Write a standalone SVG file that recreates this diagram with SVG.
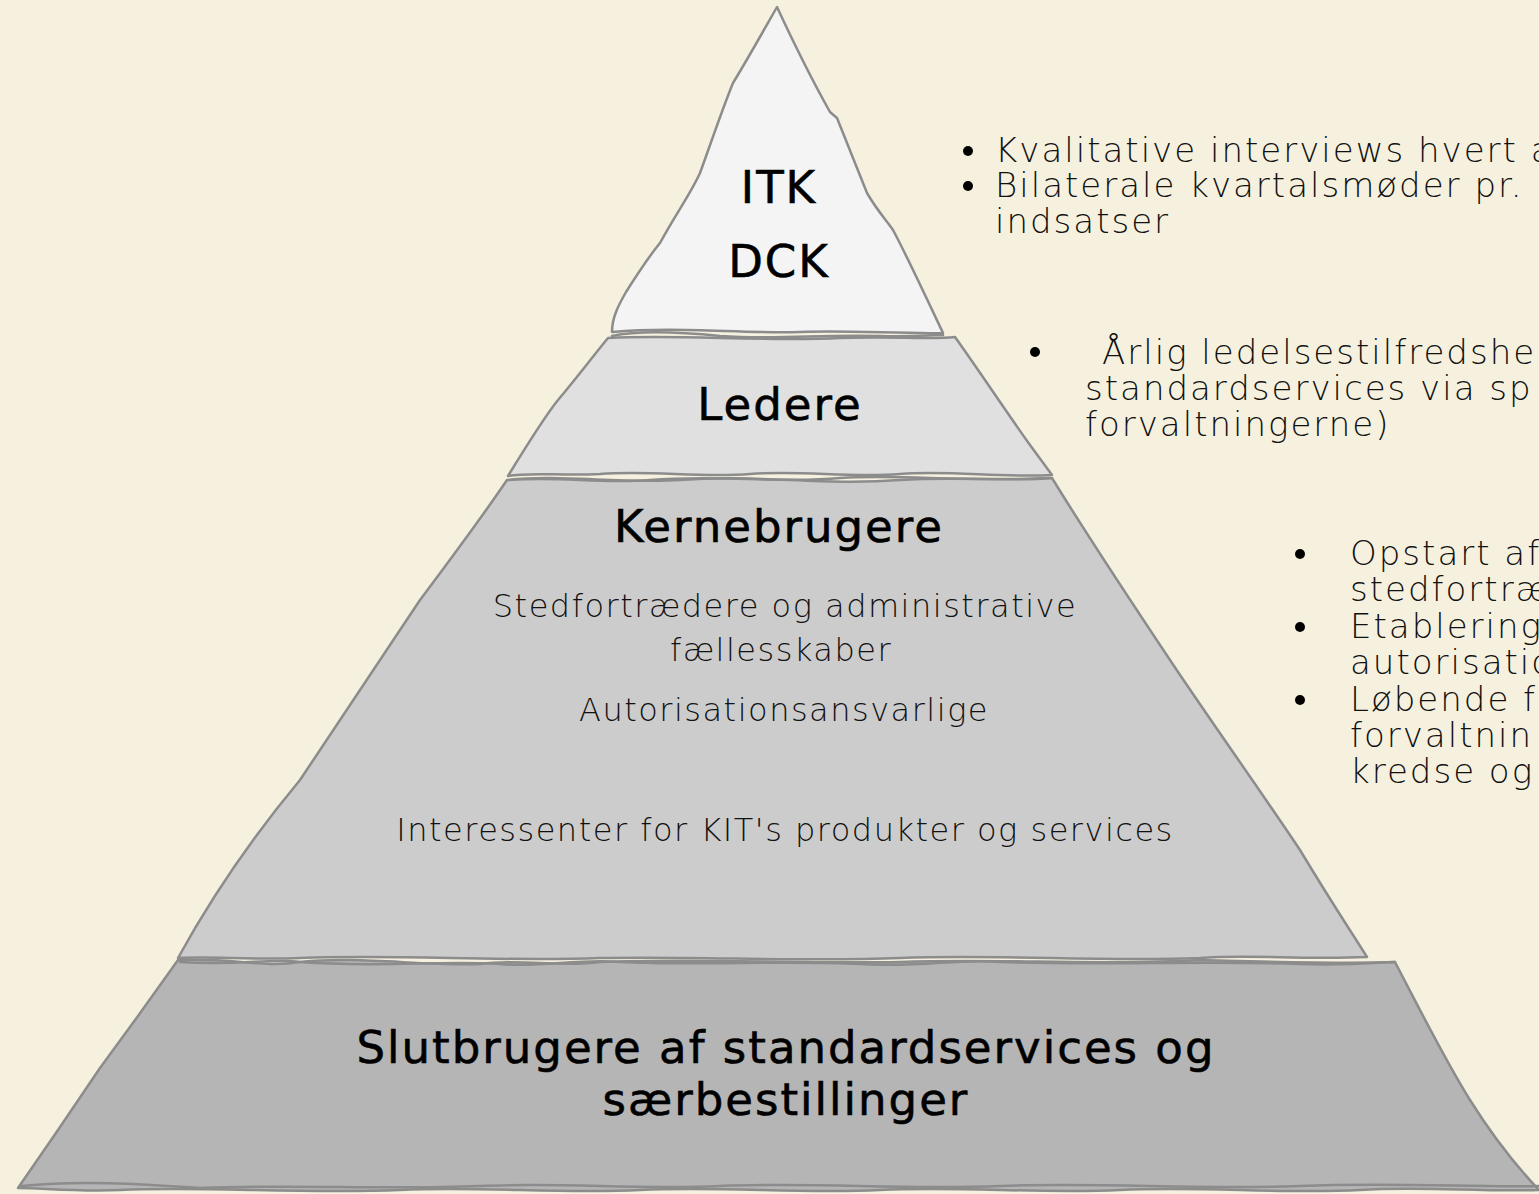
<svg xmlns="http://www.w3.org/2000/svg" width="1539" height="1194" viewBox="0 0 1539 1194">
<style>
.edge{stroke:#8c8c8c;stroke-width:2.5;stroke-linejoin:round;stroke-linecap:round}
.line{fill:none;stroke:#8c8c8c;stroke-width:2.5;stroke-linecap:round}
.lbl{font-family:"DejaVu Sans","Liberation Sans",sans-serif;font-weight:400;fill:#000;text-anchor:middle;stroke:#000;stroke-width:0.6;font-size:45px;letter-spacing:2px}
.sub{font-family:"DejaVu Sans","Liberation Sans",sans-serif;font-weight:200;fill:#111;text-anchor:middle;font-size:32px;letter-spacing:1.5px}
.bt{font-family:"DejaVu Sans","Liberation Sans",sans-serif;font-weight:200;fill:#111;font-size:34px;letter-spacing:2px}
.dot{fill:#000}
</style>
<rect width="1539" height="1194" fill="#f6f1df"/>

<g id="layer-slutbrugere">
<path class="edge" fill="#b5b5b5" d="M178,960 C240,958 260,968 300,962 C360,956 420,966 480,964 C520,958 560,968 600,962 C700,958 800,964 900,962 C1000,958 1100,966 1200,960 C1280,962 1340,964 1395,962 C1420,1010 1445,1060 1470,1100 C1495,1140 1520,1170 1539,1190 C1480,1192 1420,1186 1360,1190 C1280,1194 1200,1186 1120,1190 C1040,1194 960,1186 880,1190 C800,1194 720,1186 640,1190 C560,1194 480,1186 400,1190 C300,1194 200,1186 120,1190 C80,1192 40,1188 18,1188 L58,1130 L100,1068 L138,1016 Z"/>
<path class="line" d="M22,1186 C80,1180 140,1184 200,1188 C300,1184 380,1190 480,1186 C560,1182 640,1190 720,1186 C820,1182 900,1190 1000,1186 C1100,1182 1200,1190 1300,1186 C1400,1182 1480,1188 1539,1186"/>
<text class="lbl" x="786" y="1063">Slutbrugere af standardservices og</text>
<text class="lbl" x="786" y="1115">særbestillinger</text>
</g>

<g id="layer-kernebrugere">
<path class="edge" fill="#cccccc" d="M507,480 C560,474 620,484 680,480 C760,474 820,486 900,480 C960,476 1010,482 1052,478 C1090,540 1130,600 1170,660 C1210,720 1260,790 1300,850 C1330,900 1350,930 1367,957 C1300,960 1250,954 1200,958 C1100,962 1000,954 900,958 C800,962 700,956 600,958 C500,962 400,954 300,958 C250,960 210,956 178,958 C210,900 250,840 300,780 C340,720 380,660 420,600 C450,560 480,520 507,480 Z"/>
<path class="line" d="M180,962 C240,966 270,958 300,962 C380,968 440,960 500,964 C540,968 580,958 620,962 C700,966 780,960 860,964 C920,968 960,958 1000,962 C1100,966 1200,960 1300,964 C1350,966 1380,962 1395,962"/>
<text class="lbl" x="779" y="542">Kernebrugere</text>
<text class="sub" x="785" y="617">Stedfortrædere og administrative</text>
<text class="sub" x="781" y="661">fællesskaber</text>
<text class="sub" x="784" y="721">Autorisationsansvarlige</text>
<text class="sub" x="785" y="841">Interessenter for KIT's produkter og services</text>
</g>

<g id="layer-ledere">
<path class="edge" fill="#e0e0e0" d="M608,338 C680,334 760,342 840,338 C890,336 930,340 955,337 C980,372 1005,410 1030,445 L1052,475 C1000,478 950,470 900,474 C850,478 800,470 750,474 C700,478 650,470 600,474 C560,476 530,472 508,476 C530,440 550,410 558,400 C575,380 590,360 608,338 Z"/>
<path class="line" d="M510,480 C560,476 600,484 650,480 C720,474 780,484 840,478 C900,474 960,482 1050,478"/>
<text class="lbl" x="780" y="420">Ledere</text>
</g>

<g id="layer-itk">
<path class="edge" fill="#f4f4f4" d="M777,7 C790,35 812,80 830,112 L837,118 C848,145 858,170 867,193 C878,212 888,222 893,230 C905,252 925,295 943,333 C900,334 850,330 800,332 C740,334 680,326 612,332 C612,318 618,306 626,292 C640,270 650,255 660,243 C675,215 690,195 700,173 C712,140 722,110 733,83 C750,55 765,28 777,7 Z"/>
<path class="line" d="M612,336 C640,330 680,332 720,336 C780,340 820,334 880,336 C910,337 930,335 943,335"/>
<text class="lbl" x="779" y="203">ITK</text>
<text class="lbl" x="779" y="277">DCK</text>
</g>

<g id="notes">
<circle class="dot" cx="968" cy="151" r="5"/>
<text class="bt" x="995" y="162">Kvalitative interviews hvert a</text>
<circle class="dot" cx="968" cy="186" r="5"/>
<text class="bt" x="995" y="197">Bilaterale kvartalsmøder pr.</text>
<text class="bt" x="995" y="233">indsatser</text>
<circle class="dot" cx="1035" cy="352" r="5"/>
<text class="bt" x="1102" y="364">Årlig ledelsestilfredshe</text>
<text class="bt" x="1085" y="400">standardservices via sp</text>
<text class="bt" x="1085" y="436">forvaltningerne)</text>
<circle class="dot" cx="1300" cy="554" r="5"/>
<text class="bt" x="1350" y="565">Opstart af</text>
<text class="bt" x="1350" y="601">stedfortræ</text>
<circle class="dot" cx="1300" cy="627" r="5"/>
<text class="bt" x="1350" y="638">Etablering</text>
<text class="bt" x="1350" y="674">autorisatio</text>
<circle class="dot" cx="1300" cy="700" r="5"/>
<text class="bt" x="1350" y="711">Løbende f</text>
<text class="bt" x="1350" y="747">forvaltnin</text>
<text class="bt" x="1350" y="783">kredse og</text>
</g>
</svg>
